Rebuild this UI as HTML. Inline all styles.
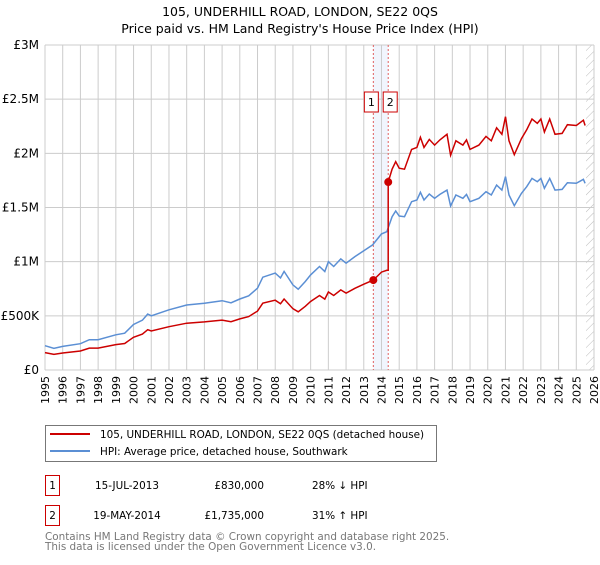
<!DOCTYPE html>
<html><head><meta charset="utf-8"><style>
body{margin:0;background:#fff;width:600px;height:560px;overflow:hidden;font-family:"Liberation Sans","DejaVu Sans",sans-serif}
svg text{font-family:"DejaVu Sans","Liberation Sans",sans-serif}
</style></head><body>
<svg id="c" width="600" height="560" xmlns="http://www.w3.org/2000/svg">
<text x="300" y="16" text-anchor="middle" font-size="12.5">105, UNDERHILL ROAD, LONDON, SE22 0QS</text>
<text x="300" y="33" text-anchor="middle" font-size="12.5">Price paid vs. HM Land Registry's House Price Index (HPI)</text>
<defs><pattern id="hatch" width="6" height="6" patternUnits="userSpaceOnUse" patternTransform="rotate(45)"><line x1="0" y1="0" x2="0" y2="6" stroke="#bbb" stroke-width="1"/></pattern></defs>
<g id="grid"></g>
<g id="marks"></g>
<g>
<rect x="45.5" y="425.5" width="391" height="36" fill="#fff" stroke="#777"/>
<line x1="50" y1="434" x2="90" y2="434" stroke="#cc0000" stroke-width="2"/>
<text x="100" y="438" font-size="10.4">105, UNDERHILL ROAD, LONDON, SE22 0QS (detached house)</text>
<line x1="50" y1="451" x2="90" y2="451" stroke="#5b8fd4" stroke-width="2"/>
<text x="100" y="455" font-size="10.4">HPI: Average price, detached house, Southwark</text>
</g>
<g font-size="10.4">
<rect x="45.5" y="475.5" width="14" height="20" fill="#fff" stroke="#cc0000"/>
<text x="52.5" y="489" text-anchor="middle">1</text>
<text x="127" y="489" text-anchor="middle">15-JUL-2013</text>
<text x="264" y="489" text-anchor="end">£830,000</text>
<text x="312" y="489">28% ↓ HPI</text>
<rect x="45.5" y="505.5" width="14" height="20" fill="#fff" stroke="#cc0000"/>
<text x="52.5" y="519" text-anchor="middle">2</text>
<text x="127" y="519" text-anchor="middle">19-MAY-2014</text>
<text x="264" y="519" text-anchor="end">£1,735,000</text>
<text x="312" y="519">31% ↑ HPI</text>
</g>
<text x="45" y="540" font-size="10.4" fill="#777">Contains HM Land Registry data © Crown copyright and database right 2025.</text>
<text x="45" y="550" font-size="10.4" fill="#777">This data is licensed under the Open Government Licence v3.0.</text>
</svg>
<script>
const hpiYears=[1995,1995.5,1996,1997,1997.5,1998,1999,1999.5,2000,2000.5,2000.8,2001,2002,2003,2004,2005,2005.5,2006,2006.5,2007,2007.3,2008,2008.3,2008.5,2009,2009.3,2009.7,2010,2010.5,2010.8,2011,2011.3,2011.7,2012,2012.5,2013,2013.5,2014,2014.3,2014.6,2014.8,2015,2015.3,2015.7,2016,2016.2,2016.4,2016.7,2017,2017.3,2017.7,2017.9,2018.2,2018.6,2018.8,2019,2019.5,2019.9,2020.2,2020.5,2020.8,2021,2021.2,2021.5,2021.9,2022.2,2022.5,2022.8,2023,2023.2,2023.5,2023.8,2024.2,2024.5,2025,2025.4,2025.5];
const hpiValues=[0.224,0.2,0.218,0.243,0.28,0.28,0.325,0.34,0.42,0.46,0.516,0.5,0.556,0.6,0.617,0.64,0.62,0.655,0.685,0.755,0.857,0.894,0.85,0.91,0.786,0.746,0.817,0.878,0.955,0.909,1.0,0.955,1.026,0.986,1.047,1.1,1.155,1.256,1.277,1.415,1.468,1.422,1.415,1.554,1.569,1.64,1.569,1.625,1.585,1.621,1.661,1.514,1.615,1.585,1.621,1.554,1.585,1.646,1.615,1.707,1.661,1.785,1.615,1.517,1.63,1.692,1.769,1.738,1.769,1.677,1.769,1.661,1.667,1.728,1.723,1.76,1.723];
const priceYears=[1995,1995.5,1996,1997,1997.5,1998,1999,1999.5,2000,2000.5,2000.8,2001,2002,2003,2004,2005,2005.5,2006,2006.5,2007,2007.3,2008,2008.3,2008.5,2009,2009.3,2009.7,2010,2010.5,2010.8,2011,2011.3,2011.7,2012,2012.5,2013,2013.54,2014,2014.3,2014.38,2014.38,2014.6,2014.8,2015,2015.3,2015.7,2016,2016.2,2016.4,2016.7,2017,2017.3,2017.7,2017.9,2018.2,2018.6,2018.8,2019,2019.5,2019.9,2020.2,2020.5,2020.8,2021,2021.2,2021.5,2021.9,2022.2,2022.5,2022.8,2023,2023.2,2023.5,2023.8,2024.2,2024.5,2025,2025.4,2025.5];
const priceValues=[0.161,0.144,0.157,0.175,0.202,0.202,0.234,0.245,0.302,0.331,0.372,0.36,0.4,0.432,0.444,0.461,0.446,0.472,0.493,0.544,0.617,0.644,0.612,0.655,0.566,0.537,0.588,0.632,0.688,0.654,0.72,0.688,0.739,0.71,0.754,0.792,0.83,0.904,0.92,0.92,1.735,1.854,1.923,1.863,1.854,2.036,2.055,2.148,2.055,2.129,2.076,2.124,2.176,1.983,2.116,2.076,2.124,2.036,2.076,2.156,2.116,2.236,2.176,2.338,2.116,1.987,2.135,2.217,2.317,2.277,2.317,2.197,2.317,2.176,2.184,2.264,2.257,2.306,2.257];
const saleYears=[2013.54,2014.38];
const saleValues=[0.83,1.735];
const saleLabels=["1","2"];
const yTicks=[0,0.5,1,1.5,2,2.5,3];
const yTickLabels=["£0","£500K","£1M","£1.5M","£2M","£2.5M","£3M"];
const xTicks=[];for(let y=1995;y<=2026;y++)xTicks.push(y);

const X0=45,X1=594,Y0=370,Y1=45;
const xs=y=>X0+(y-1995)/(2026-1995)*(X1-X0);
const ys=v=>Y0-v/3*(Y0-Y1);
const NS="http://www.w3.org/2000/svg";
function mk(tag,attrs,parent){const e=document.createElementNS(NS,tag);for(const k in attrs)e.setAttribute(k,attrs[k]);parent.appendChild(e);return e;}
const grid=document.getElementById('grid'),marks=document.getElementById('marks');
let band=mk('rect',{x:xs(saleYears[0]),y:Y1,width:xs(saleYears[1])-xs(saleYears[0]),height:Y0-Y1,fill:'#f1f5fd'},grid);


let hat=mk('rect',{x:xs(2025.55),y:Y1,width:X1-xs(2025.55),height:Y0-Y1,fill:'url(#hatch)'},grid);


xTicks.forEach(t=>{
  const l=mk('line',{x1:xs(t),x2:xs(t),y1:Y1,y2:Y0,stroke:'#ccc','stroke-width':1},grid);
  
  
  const tx=mk('text',{x:0,y:0,'font-size':11,'text-anchor':'end',transform:`translate(${xs(t)+4},${376}) rotate(-90)`},grid);
  tx.textContent=t;
  
  
});
yTicks.forEach((t,i)=>{
  const l=mk('line',{x1:X0,x2:X1,y1:ys(t),y2:ys(t),stroke:'#ccc','stroke-width':1},grid);
  
  
  const tx=mk('text',{x:39,y:ys(t)+4,'font-size':12,'text-anchor':'end'},grid);
  tx.textContent=yTickLabels[i];
  
  
});
saleYears.forEach(s=>{
  const l=mk('line',{x1:xs(s),x2:xs(s),y1:Y1,y2:Y0,stroke:'#e06060','stroke-width':1,'stroke-dasharray':'2,2'},grid);
  
  
});
function pts(xa,va){return xa.map((x,i)=>xs(x).toFixed(1)+','+ys(va[i]).toFixed(1)).join(' ');}
const hl=mk('polyline',{points:pts(hpiYears,hpiValues),fill:'none',stroke:'#5b8fd4','stroke-width':1.5},marks);


const pl=mk('polyline',{points:pts(priceYears,priceValues),fill:'none',stroke:'#cc0000','stroke-width':1.5},marks);


saleYears.forEach((s,i)=>{
  const c=mk('circle',{cx:xs(s),cy:ys(saleValues[i]),r:4,fill:'#cc0000'},marks);
  
  
  const bx=i===0?xs(s)-9:xs(s)-5;
  const r=mk('rect',{x:bx,y:92,width:14,height:20,fill:'#fff',stroke:'#cc0000'},marks);
  
  
  const t=mk('text',{x:bx+7,y:106,'font-size':11,'text-anchor':'middle'},marks);
  t.textContent=saleLabels[i];
  
  
});
</script>
</body></html>
